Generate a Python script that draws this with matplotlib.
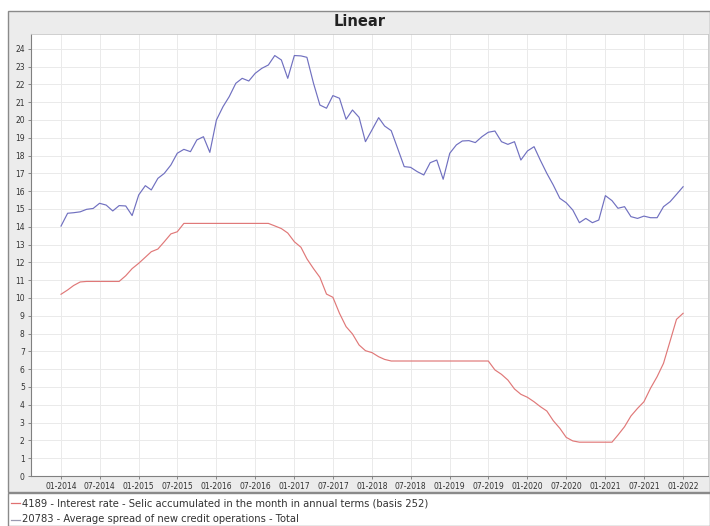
import matplotlib
matplotlib.use("Agg")
import matplotlib.pyplot as plt
import matplotlib.dates as mdates
from matplotlib.patches import Rectangle
from matplotlib.lines import Line2D
import pandas as pd
import datetime as dt

months = pd.date_range("2014-01-01", "2022-01-01", freq="MS")

spread = [14.04, 14.76, 14.79, 14.84, 14.98, 15.03, 15.32, 15.22, 14.89, 15.19, 15.17, 14.63,
          15.79, 16.31, 16.07, 16.72, 17.00, 17.47, 18.13, 18.35, 18.22, 18.88, 19.06, 18.18,
          20.00, 20.75, 21.31, 22.06, 22.34, 22.19, 22.62, 22.90, 23.09, 23.62, 23.37, 22.34,
          23.62, 23.60, 23.52, 22.06, 20.84, 20.66, 21.37, 21.22, 20.04, 20.56, 20.15, 18.78,
          19.45, 20.13, 19.66, 19.40, 18.41, 17.38, 17.34, 17.10, 16.91, 17.60, 17.75, 16.67,
          18.13, 18.60, 18.82, 18.84, 18.73, 19.06, 19.31, 19.38, 18.78, 18.63, 18.78, 17.75,
          18.26, 18.50, 17.75, 17.00, 16.35, 15.60, 15.35, 14.94, 14.23, 14.47, 14.23, 14.38,
          15.75, 15.47, 15.04, 15.13, 14.57, 14.47, 14.60, 14.51, 14.51, 15.13, 15.41, 15.82,
          16.25]

selic = [10.21, 10.45, 10.70, 10.90, 10.93, 10.93, 10.93, 10.93, 10.93, 10.93, 11.25, 11.65,
         11.95, 12.29, 12.60, 12.75, 13.16, 13.60, 13.72, 14.19, 14.19, 14.19, 14.19, 14.19,
         14.19, 14.19, 14.19, 14.19, 14.19, 14.19, 14.19, 14.19, 14.19, 14.05, 13.90, 13.65,
         13.16, 12.85, 12.20, 11.65, 11.16, 10.22, 10.04, 9.14, 8.39, 7.98, 7.36, 7.04,
         6.93, 6.70, 6.55, 6.46, 6.46, 6.46, 6.46, 6.46, 6.46, 6.46, 6.46, 6.46,
         6.46, 6.46, 6.46, 6.46, 6.46, 6.46, 6.46, 5.96, 5.71, 5.39, 4.89, 4.59,
         4.42, 4.17, 3.90, 3.65, 3.11, 2.68, 2.17, 1.97, 1.90, 1.90, 1.90, 1.90,
         1.90, 1.90, 2.30, 2.77, 3.37, 3.80, 4.17, 4.93, 5.58, 6.33, 7.58, 8.80,
         9.14]

tick_dates = pd.date_range("2014-01-01", "2022-01-01", freq="6MS")
tick_labels = [d.strftime("%m-%Y") for d in tick_dates]
y_ticks = list(range(0, 25))

title = "Linear"
legend_labels = ["4189 - Interest rate - Selic accumulated in the month in annual terms (basis 252)",
                 "20783 - Average spread of new credit operations - Total"]

W, H = 710, 526
fig = plt.figure(figsize=(W / 100, H / 100), dpi=100)
fig.patch.set_facecolor("white")

# outer chart panel
fig.patches.append(Rectangle((8 / W, 1 - 492 / H), (W - 8) / W, (492 - 11) / H,
                             transform=fig.transFigure, facecolor="#ececec",
                             edgecolor="#8a8a8a", linewidth=1.0, zorder=0))
# legend box
fig.patches.append(Rectangle((8 / W, 0.0), (W - 8) / W, (526 - 493) / H,
                             transform=fig.transFigure, facecolor="white",
                             edgecolor="#8a8a8a", linewidth=1.0, zorder=0))

ax = fig.add_axes([31 / W, 1 - 476 / H, (708 - 31) / W, (476 - 34) / H])
ax.set_zorder(2)
ax.set_facecolor("white")

ax.plot(months, selic, color="#e07878", linewidth=0.85, zorder=3)
ax.plot(months, spread, color="#7070c0", linewidth=0.85, zorder=3)

ax.set_xlim(dt.datetime(2013, 8, 13), dt.datetime(2022, 4, 28))
ax.set_ylim(0, 24.83)
ax.set_yticks(y_ticks)
ax.set_yticklabels([str(v) for v in y_ticks], fontsize=5.5, color="#333333")
ax.set_xticks(tick_dates)
ax.set_xticklabels(tick_labels, fontsize=5.5, color="#333333")
ax.tick_params(axis="both", length=2.5, width=0.6, color="#777777", pad=2)

ax.grid(True, color="#eaeaea", linewidth=0.7, linestyle="-")
ax.set_axisbelow(True)
for side in ["top", "right"]:
    ax.spines[side].set_color("#c8c8c8")
    ax.spines[side].set_linewidth(0.6)
for side in ["left", "bottom"]:
    ax.spines[side].set_color("#808080")
    ax.spines[side].set_linewidth(0.8)

fig.text(360 / W, 1 - 22 / H, title, ha="center", va="center",
         fontsize=10.5, fontweight="bold", color="#222222", zorder=3)

# legend
for i, (lab, col) in enumerate(zip(legend_labels, ["#e07070", "#9a9ab0"])):
    yc = 1 - (503 + i * 16.5) / H
    fig.lines.append(Line2D([11 / W, 20 / W], [yc, yc], transform=fig.transFigure,
                            color=col, linewidth=0.9, zorder=3))
    fig.text(22 / W, yc, lab, ha="left", va="center", fontsize=7.2, color="#333333", zorder=3)

fig.savefig("out.png", dpi=100)
